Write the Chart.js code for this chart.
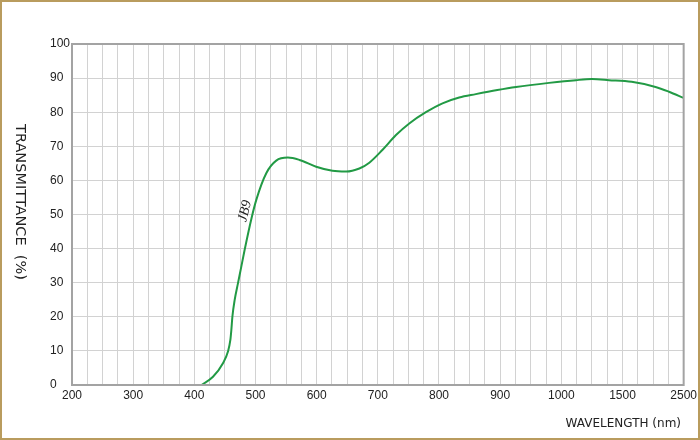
<!DOCTYPE html>
<html>
<head>
<meta charset="utf-8">
<script src="https://cdn.jsdelivr.net/npm/chart.js@4"></script>
<style>
  body { margin: 0; background: #fff; }
  #wrap { width: 700px; height: 440px; position: relative; }
</style>
</head>
<body>
<div id="wrap"><canvas id="transChart" width="700" height="440"></canvas></div>
<script>
// x axis categories (equally spaced, not linear in nm)
const tickLabels = ['200', '300', '400', '500', '600', '700', '800', '900', '1000', '1500', '2500'];
const tickWavelengths = [200, 300, 400, 500, 600, 700, 800, 900, 1000, 1500, 2500];

// JB9 curve
const wavelengths = [411.6, 430.5, 446.8, 455, 458.9, 460.5, 462.2, 465.9, 471.3, 476.8, 482.2,
  493.6, 501.3, 517.6, 533.9, 552.9, 571.9, 599.2, 625.8, 648.1, 669.8, 686.1, 707.8, 729.7,
  751.4, 778.6, 805.7, 833, 860.2, 895.4, 926, 980, 1120, 1250, 1390, 1650, 2040, 2260, 2500];
const transmittance = [0, 2.4, 6.4, 9.8, 13.2, 16.1, 20, 24.9, 29.8, 34.7, 39.6,
  49, 54.3, 62.1, 65.8, 66.7, 66, 64, 62.8, 62.6, 63.5, 65.2, 69, 73.3,
  76.7, 80, 82.6, 84.3, 85.3, 86.5, 87.4, 88.6, 89.4, 89.7, 89.4, 88.9, 87.4, 86, 84.2];

// map a wavelength onto the category position of the axis
function toPos(wl) {
  for (let i = 0; i < tickWavelengths.length - 1; i++) {
    const a = tickWavelengths[i], b = tickWavelengths[i + 1];
    if (wl <= b) return i + (wl - a) / (b - a);
  }
  return tickWavelengths.length - 1;
}

const points = wavelengths.map((wl, i) => ({ x: toPos(wl), y: transmittance[i] }));

const decor = {
  id: 'decor',
  beforeDraw(chart) {
    const ctx = chart.ctx;
    ctx.save();
    ctx.strokeStyle = '#b99c5e';
    ctx.lineWidth = 2;
    ctx.strokeRect(1, 1, 698, 438);
    ctx.restore();
  },
  afterDatasetsDraw(chart) {
    const ctx = chart.ctx;
    const a = chart.chartArea;
    ctx.save();
    // plot frame
    ctx.strokeStyle = '#a3a3a3';
    ctx.lineWidth = 2;
    ctx.strokeRect(a.left, a.top, a.right - a.left, a.bottom - a.top);

    // axis titles
    ctx.fillStyle = '#222';
    ctx.font = '12px "DejaVu Sans"';
    ctx.textAlign = 'right';
    ctx.textBaseline = 'middle';
    ctx.fillText('WAVELENGTH (nm)', 681, 424);

    ctx.font = '14.5px "DejaVu Sans"';
    ctx.translate(20, 202);
    ctx.rotate(Math.PI / 2);
    ctx.textAlign = 'center';
    ctx.fillText('TRANSMITTANCE  (%)', 0, 0);
    ctx.restore();

    // curve label
    const xs = chart.scales.x, ys = chart.scales.y;
    ctx.save();
    ctx.translate(xs.getPixelForValue(toPos(483)), ys.getPixelForValue(51));
    ctx.rotate(-76 * Math.PI / 180);
    ctx.font = 'italic 14px "Liberation Serif"';
    ctx.fillStyle = '#222';
    ctx.textAlign = 'center';
    ctx.textBaseline = 'middle';
    ctx.fillText('JB9', 0, 0);
    ctx.restore();
  }
};

const chartCanvas = document.getElementById('transChart').getContext('2d');
const transChart = new Chart(chartCanvas, {
  type: 'line',
  data: {
    datasets: [{
      label: 'JB9',
      data: points,
      borderColor: '#229a45',
      borderWidth: 2,
      pointRadius: 0,
      cubicInterpolationMode: 'monotone',
      fill: false
    }]
  },
  options: {
    responsive: false,
    animation: false,
    layout: { padding: { left: 50, top: 44, right: 15, bottom: 0 } },
    plugins: { legend: { display: false }, tooltip: { enabled: false } },
    scales: {
      x: {
        type: 'linear',
        min: 0,
        max: 10,
        afterBuildTicks(scale) {
          const t = [];
          for (let i = 0; i <= 40; i++) t.push({ value: i * 0.25 });
          scale.ticks = t;
        },
        afterFit(scale) { scale.height = 55; },
        grid: { color: '#d2d2d2', lineWidth: 1, drawTicks: false },
        border: { display: false },
        ticks: {
          autoSkip: false,
          maxRotation: 0,
          padding: 3,
          color: '#222',
          font: { family: '"Liberation Sans", Arial', size: 12 },
          callback: (v) => Number.isInteger(v) ? tickLabels[v] : ''
        }
      },
      y: {
        min: 0,
        max: 100,
        afterFit(scale) { scale.width = 22; },
        grid: { color: '#d2d2d2', lineWidth: 1, drawTicks: false },
        border: { display: false },
        ticks: {
          stepSize: 10,
          crossAlign: 'far',
          padding: 0,
          color: '#222',
          font: { family: '"Liberation Sans", Arial', size: 12 }
        }
      }
    }
  },
  plugins: [decor]
});
</script>
</body>
</html>
